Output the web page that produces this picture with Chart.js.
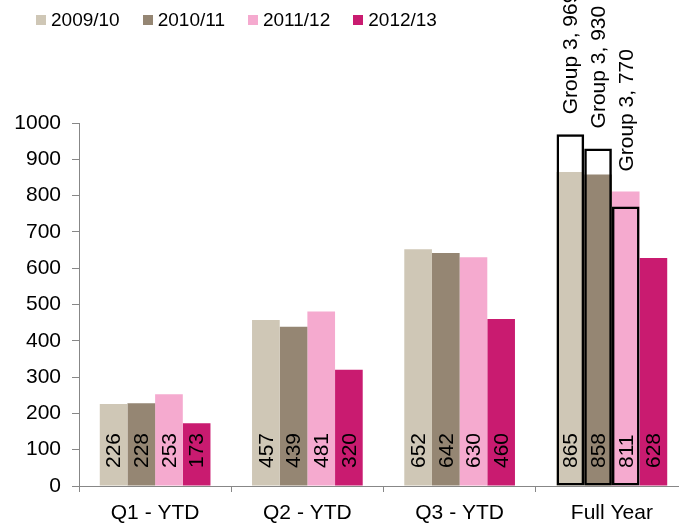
<!DOCTYPE html>
<html>
<head>
<meta charset="utf-8">
<script src="https://cdn.jsdelivr.net/npm/chart.js@4"></script>
<style>
  html, body { margin: 0; padding: 0; background: #fff; overflow: hidden; }
  #wrap { position: relative; width: 679px; height: 523px; overflow: hidden; }
  #quarterChart { position: absolute; left: 0; top: 0; }
  #legend {
    position: absolute; left: 36px; top: 9px;
    display: flex; gap: 23px;
    font: 19px "Liberation Sans", Arial, sans-serif; line-height: 22px; color: #000;
  }
  .item { display: flex; align-items: center; }
  .swatch { width: 10px; height: 10px; margin-right: 5px; }
</style>
</head>
<body>
<div id="wrap">
  <canvas id="quarterChart" width="700" height="523"></canvas>
  <div id="legend"></div>
</div>
<script>
const categories = ['Q1 - YTD', 'Q2 - YTD', 'Q3 - YTD', 'Full Year'];
const seasons = ['2009/10', '2010/11', '2011/12', '2012/13'];
const seasonColors = ['#CFC7B6', '#958673', '#F5AACF', '#C91B70'];

const values0910 = [226, 457, 652, 865];
const values1011 = [228, 439, 642, 858];
const values1112 = [253, 481, 630, 811];
const values1213 = [173, 320, 460, 628];
const seasonValues = [values0910, values1011, values1112, values1213];

// Group 3 totals, Full Year only (one per season, none for 2012/13)
const group3Label = 'Group 3';
const group3 = [969, 930, 770, null];

const yMin = 0;
const yMax = 1000;
const yStep = 100;

const FONT = '"Liberation Sans", Arial, sans-serif';
const AXIS_GREY = '#878787';

// legend as plain html
const legendEl = document.getElementById('legend');
seasons.forEach((s, i) => {
    const item = document.createElement('div');
    item.className = 'item';
    item.innerHTML = '<span class="swatch" style="background:' + seasonColors[i] + '"></span>' + s;
    legendEl.appendChild(item);
});

// each season gets its own stack id so the outline bar shares the slot of its filled bar
const fillSets = seasons.map((s, i) => ({
    label: s,
    data: seasonValues[i],
    backgroundColor: seasonColors[i],
    borderWidth: 0,
    stack: 's' + i,
    kind: 'fill',
    order: 0
}));

const outlineSets = seasons.map((s, i) => ({
    label: group3Label,
    data: categories.map((c, j) => j === categories.length - 1 ? group3[i] : null),
    backgroundColor: 'rgba(0,0,0,0)',
    borderColor: '#000',
    borderWidth: 2.5,
    borderSkipped: false,
    stack: 's' + i,
    kind: 'outline',
    fillIndex: i,
    order: -1
}));

const barLabels = {
    id: 'barLabels',
    afterDatasetsDraw(chart) {
        const ctx = chart.ctx;
        const yScale = chart.scales.y;
        const base = yScale.getPixelForValue(0);
        ctx.save();
        ctx.font = '21px ' + FONT;
        ctx.fillStyle = '#000';
        ctx.textBaseline = 'middle';
        ctx.textAlign = 'left';
        chart.data.datasets.forEach((ds, i) => {
            const meta = chart.getDatasetMeta(i);
            meta.data.forEach((bar, j) => {
                const v = ds.data[j];
                if (v == null) return;
                let startY, text;
                if (ds.kind === 'fill') {
                    startY = base - 18;
                    text = String(v);
                } else {
                    const fillBar = chart.getDatasetMeta(ds.fillIndex).data[j];
                    startY = Math.min(bar.y, fillBar.y) - 20;
                    text = ds.label + ', ' + v;
                }
                ctx.save();
                ctx.translate(bar.x, startY);
                ctx.rotate(-Math.PI / 2);
                ctx.fillText(text, 0, 1);
                ctx.restore();
            });
        });
        ctx.restore();
    }
};

new Chart(document.getElementById('quarterChart'), {
    type: 'bar',
    data: {
        labels: categories,
        datasets: fillSets.concat(outlineSets)
    },
    options: {
        responsive: false,
        animation: false,
        categoryPercentage: 0.727,
        barPercentage: 1.0,
        layout: {
            padding: { top: 123, left: 14, right: 12, bottom: 0 }
        },
        plugins: {
            legend: { display: false },
            tooltip: { enabled: false }
        },
        scales: {
            x: {
                offset: true,
                afterFit: (scale) => { scale.height = 37; },
                grid: {
                    offset: true,
                    drawOnChartArea: false,
                    drawTicks: true,
                    tickLength: 6,
                    color: AXIS_GREY
                },
                border: { color: AXIS_GREY, width: 1 },
                ticks: {
                    color: '#000',
                    padding: 11,
                    font: { family: FONT, size: 21, lineHeight: 1 }
                }
            },
            y: {
                stacked: false,
                min: yMin,
                max: yMax,
                afterFit: (scale) => { scale.width = 65; },
                ticks: {
                    stepSize: yStep,
                    color: '#000',
                    padding: 11,
                    font: { family: FONT, size: 21 },
                    callback: (v) => String(v)
                },
                grid: {
                    drawOnChartArea: false,
                    drawTicks: true,
                    tickLength: 7,
                    color: AXIS_GREY
                },
                border: { color: AXIS_GREY, width: 1 }
            }
        }
    },
    plugins: [barLabels]
});
</script>
</body>
</html>
